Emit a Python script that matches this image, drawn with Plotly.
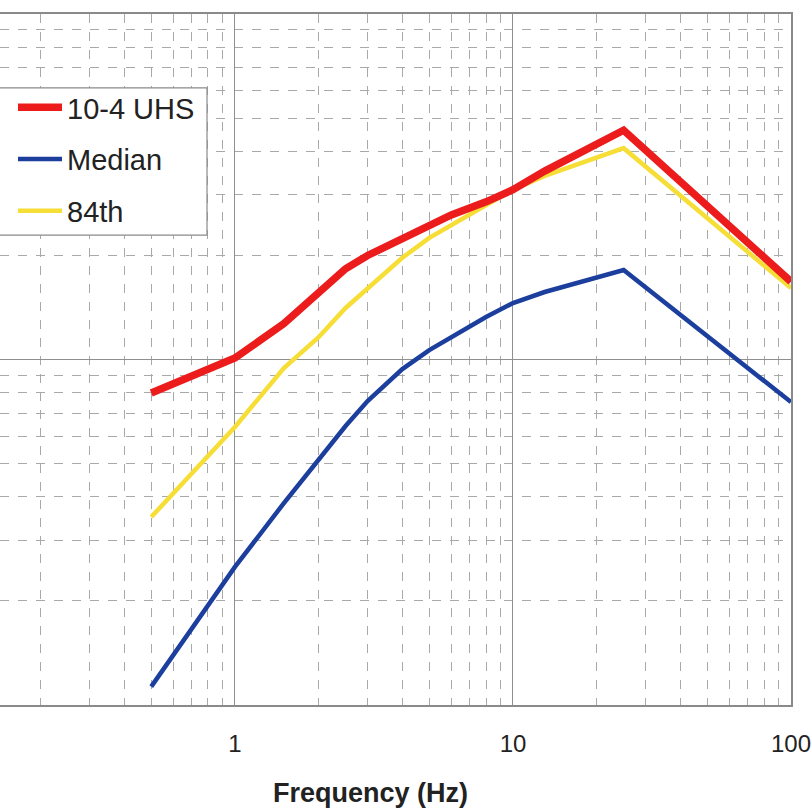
import plotly.graph_objects as go

# Frequencies (Hz)
freq = [0.5, 1, 1.5, 2, 2.5, 3, 4, 5, 6, 8, 10, 13, 25, 100]

# Spectral values (g) (log-log)
uhs = [0.080, 0.101, 0.127, 0.156, 0.183, 0.200, 0.223, 0.245, 0.262, 0.286, 0.310, 0.351, 0.461, 0.168]
median = [0.0113, 0.0251, 0.0384, 0.0515, 0.0642, 0.0758, 0.0938, 0.1065, 0.116, 0.1327, 0.1457, 0.1568, 0.1816, 0.0753]
p84 = [0.035, 0.0638, 0.0945, 0.116, 0.141, 0.160, 0.197, 0.225, 0.245, 0.280, 0.310, 0.340, 0.409, 0.161]

x_ticks = [1, 10, 100]
x_tick_labels = ["1", "10", "100"]

names = ["10-4 UHS", "Median", "84th"]
colors = ["#ec1c1c", "#1c3f9e", "#f6de36"]
widths = [7.5, 4.5, 4.5]

fig = go.Figure()
series = [uhs, median, p84]
draw_order = [2, 1, 0]
for i in draw_order:
    fig.add_trace(go.Scatter(
        x=freq, y=series[i], mode="lines", name=names[i],
        line=dict(color=colors[i], width=widths[i]),
        legendgroup=names[i], legendrank=i + 1,
    ))

grid_major = "#8f8f8f"
grid_minor = "#a9a9a9"
font_family = "Liberation Sans, Arial"

fig.update_xaxes(
    type="log", range=[-0.845, 2.0],
    tickvals=x_ticks, ticktext=x_tick_labels,
    ticks="", ticklabelstandoff=16, ticklabeloverflow="allow",
    tickfont=dict(family=font_family, size=24, color="#222"),
    showgrid=True, gridcolor=grid_major, gridwidth=1.3,
    minor=dict(dtick="D1", showgrid=True, gridcolor=grid_minor, griddash="dash", gridwidth=1),
    showline=True, linecolor="#8a8a8a", linewidth=1.5, mirror=True,
    zeroline=False,
)
fig.update_yaxes(
    type="log", range=[-2, 0], dtick=1,
    showticklabels=False, ticks="",
    showgrid=True, gridcolor=grid_major, gridwidth=1.3,
    minor=dict(dtick="D1", showgrid=True, gridcolor=grid_minor, griddash="dash", gridwidth=1),
    showline=True, linecolor="#8a8a8a", linewidth=1.5, mirror=True,
    zeroline=False,
)

fig.add_annotation(
    text="<b>Frequency (Hz)</b>", xref="paper", yref="paper",
    x=0.469, y=-0.128, xanchor="center", yanchor="middle", showarrow=False,
    font=dict(family=font_family, size=27, color="#222"),
)

# legend frame (cropped at the left edge as in the reference)
fig.add_shape(
    type="rect", xref="paper", yref="paper",
    x0=-0.01, x1=0.2617, y0=0.680, y1=0.893,
    fillcolor="white", line=dict(color="#8a8a8a", width=1.2), layer="above",
)

fig.update_layout(
    width=811, height=812,
    margin=dict(l=0, r=20, t=14, b=107),
    paper_bgcolor="white", plot_bgcolor="white",
    showlegend=True,
    legend=dict(
        x=13 / 791, y=0.9016, xanchor="left", yanchor="top",
        bgcolor="rgba(0,0,0,0)", borderwidth=0,
        font=dict(family=font_family, size=29, color="#222"),
        traceorder="grouped", tracegroupgap=11,
        itemwidth=44,
    ),
)

fig.write_html("out.html")
